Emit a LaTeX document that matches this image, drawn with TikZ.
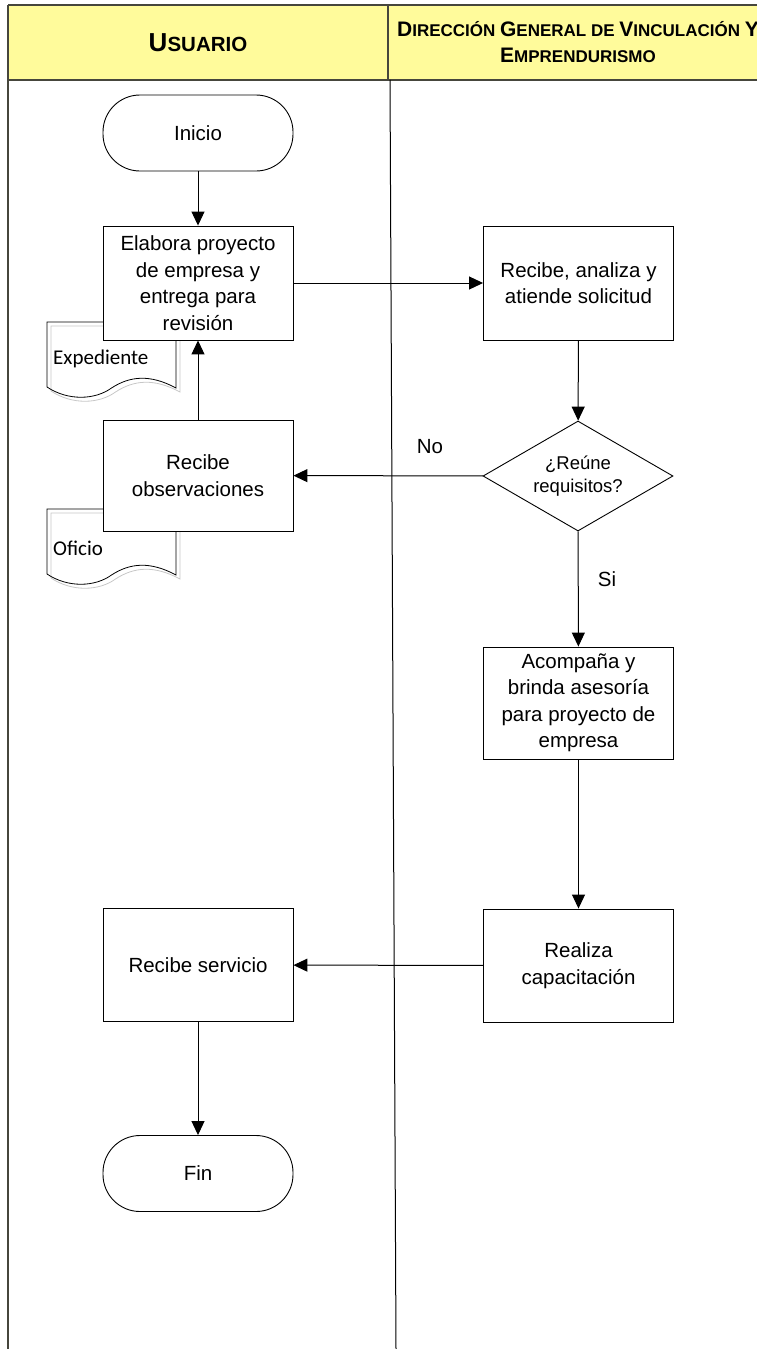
\documentclass[tikz,border=0pt]{standalone}
\usepackage{fontspec}
\setmainfont{Liberation Sans}
\newfontfamily\calfont{Carlito}
\usetikzlibrary{shapes.geometric,arrows.meta}
\definecolor{hdryellow}{RGB}{255,251,155}
\definecolor{hdrline}{RGB}{70,70,60}
\newcommand{\hbig}[1]{{\fontsize{21}{26}\selectfont #1}}
\begin{document}
\begin{tikzpicture}[x=1pt,y=-1pt,
  every node/.style={font=\fontsize{20.5}{26.5}\selectfont, inner sep=0pt},
  proc/.style={draw=black, fill=white, line width=0.9pt, minimum width=190pt, minimum height=113pt, align=center},
  term/.style={draw=black, fill=white, line width=0.9pt, rounded corners=37pt, minimum width=190pt, minimum height=76pt, align=center},
  dec/.style={diamond, draw=black, fill=white, line width=0.9pt, minimum width=190pt, minimum height=110pt, aspect=1.73, align=center, font=\fontsize{18.5}{23}\selectfont},
  arr/.style={-{Triangle[length=14pt,width=13pt]}, line width=1pt, draw=black},
  docline/.style={draw=black, line width=0.8pt},
  docshadow/.style={draw=black!22, line width=0.8pt},
  doctext/.style={font=\calfont\fontsize{21}{24}\selectfont, anchor=west}
]
\useasboundingbox (0,0) rectangle (756,1349);

% header
\fill[hdryellow] (8,5) rectangle (760,80);
\draw[hdrline, line width=1.2pt] (8,5) -- (760,5);
\draw[hdrline, line width=1.2pt] (8,80) -- (760,80);
\draw[hdrline, line width=1.2pt] (388,5) -- (388,80);
\draw[hdrline, line width=1.2pt] (8,5) -- (8,1349);
\draw[black, line width=1pt] (390,80) -- (396,1349);

\node (husr) at (198,43) {\bfseries{\fontsize{26}{26}\selectfont U}{\fontsize{20.5}{26}\selectfont SUARIO}};
\node[align=center, font=\bfseries\fontsize{17}{26}\selectfont] (hdir) at (578,42)
  {\hbig{D}IRECCIÓN \hbig{G}ENERAL DE \hbig{V}INCULACIÓN \hbig{Y}\\\hbig{E}MPRENDURISMO};

% documents
\begin{scope}[shift={(4,4)}]
  \draw[docshadow] (47,322) -- (176,322) -- (176,388) .. controls (150,374) and (130,376) .. (111.5,388) .. controls (95,400) and (68,401) .. (47,387) -- cycle;
\end{scope}
\draw[docline] (47,322) -- (176,322) -- (176,388) .. controls (150,374) and (130,376) .. (111.5,388) .. controls (95,400) and (68,401) .. (47,387) -- cycle;
\node[doctext] (expd) at (53,359) {Expediente};

\begin{scope}[shift={(0,187)}]
  \begin{scope}[shift={(4,4)}]
    \draw[docshadow] (47,322) -- (176,322) -- (176,388) .. controls (150,374) and (130,376) .. (111.5,388) .. controls (95,400) and (68,401) .. (47,387) -- cycle;
  \end{scope}
  \draw[docline] (47,322) -- (176,322) -- (176,388) .. controls (150,374) and (130,376) .. (111.5,388) .. controls (95,400) and (68,401) .. (47,387) -- cycle;
\end{scope}
\node[doctext] (ofic) at (53,548) {Oficio};

% flow nodes
\node[term] (ini) at (198,133) {Inicio};
\node[proc, minimum height=114pt] (ela) at (198,283) {Elabora proyecto\\de empresa y\\entrega para\\revisión};
\node[proc, minimum height=114pt] (rec) at (578.5,283) {Recibe, analiza y\\atiende solicitud};
\node[dec] (dec) at (578,476) {¿Reúne\\requisitos?};
\node[proc, minimum height=111pt] (obs) at (198,475.5) {Recibe\\observaciones};
\node[proc, minimum height=112pt] (aco) at (578.5,703) {Acompaña y\\brinda asesoría\\para proyecto de\\empresa};
\node[proc] (rea) at (578.5,965.5) {Realiza\\capacitación};
\node[proc] (ser) at (198,965) {Recibe servicio};
\node[term] (fin) at (198,1173.5) {Fin};

\node (lno) at (430,447) {No};
\node (lsi) at (607,579) {Si};

% connectors
\draw[arr] (ini) -- (ela);
\draw[arr] (ela) -- (rec);
\draw[arr] (rec) -- (dec);
\draw[arr] (dec) -- (obs);
\draw[arr] (obs) -- (ela);
\draw[arr] (dec) -- (aco);
\draw[arr] (aco) -- (rea);
\draw[arr] (rea) -- (ser);
\draw[arr] (ser) -- (fin);
\end{tikzpicture}
\end{document}
